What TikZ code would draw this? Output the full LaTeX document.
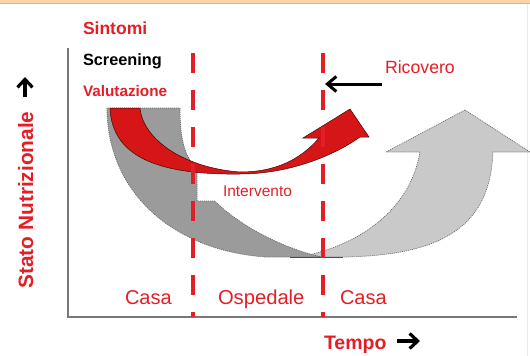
\documentclass[tikz,border=0pt]{standalone}
\usepackage{fontspec}
\setmainfont{Liberation Sans}
\usetikzlibrary{arrows.meta}
\definecolor{txtred}{RGB}{228,30,38}
\definecolor{arrred}{RGB}{214,22,22}
\definecolor{dgray}{RGB}{155,155,155}
\definecolor{lgray}{RGB}{201,201,201}
\definecolor{axisgray}{RGB}{120,120,120}
\definecolor{topband}{RGB}{248,214,170}
\definecolor{topline}{RGB}{232,176,112}
\definecolor{framec}{RGB}{228,236,236}
\begin{document}
\begin{tikzpicture}[x=1pt,y=-1pt,
  lbl/.style={inner sep=0pt, outer sep=0pt, text=txtred},
  blk/.style={inner sep=0pt, outer sep=0pt, text=black},
  divider/.style={draw=txtred, line width=4pt, dash pattern=on 20pt off 17pt},
  axisline/.style={draw=axisgray, line width=1.3pt},
  shadeout/.style={draw=black!60, line width=0.7pt, dash pattern=on 1pt off 1pt},
  redarrow/.style={fill=arrred, draw=black!70!arrred, line width=0.5pt},
  heavyarrow/.style={draw=black, line width=3.2pt, -{Straight Barb[length=8pt,width=15pt]}}]
\useasboundingbox (0,0) rectangle (530,356);
% top band and faint frame
\fill[topband] (0,0) rectangle (530,3);
\draw[topline, line width=1pt] (0,3) -- (530,3);
\coordinate (frT) at (527,4);
\coordinate (frB) at (527,356);
\draw[framec, line width=0.8pt] (frT) -- (frB);

% axes
\coordinate (yTop) at (68,48);
\coordinate (orig) at (68,317);
\coordinate (xEnd) at (517,317);
\draw[axisline] (yTop) -- (orig) -- (xEnd);

% light gray rising arrow
\fill[lgray] (465,110) -- (530,152) -- (493,152)
  .. controls (490,225) and (445,255) .. (345,257) -- (300,257)
  .. controls (360,245) and (410,210) .. (420,152) -- (386,152) -- cycle;
\draw[shadeout] (465,110) -- (530,152) -- (493,152)
  .. controls (490,225) and (445,255) .. (345,257) -- (300,257)
  .. controls (360,245) and (410,210) .. (420,152) -- (386,152) -- cycle;

% dark gray descending band
\fill[dgray] (107,108) .. controls (107,190) and (170,250) .. (265,257) -- (322,257)
  .. controls (280,248) and (235,222) .. (215,201) -- (197,201) -- (197,168)
  .. controls (185,158) and (180,140) .. (180,108) -- cycle;
\draw[shadeout] (107,108) .. controls (107,190) and (170,250) .. (265,257) -- (322,257)
  .. controls (280,248) and (235,222) .. (215,201) -- (197,201) -- (197,168)
  .. controls (185,158) and (180,140) .. (180,108) -- cycle;
\draw[black!70, line width=0.8pt] (290,257) -- (343,257);

% red curved arrow
\path[redarrow] (110,108) .. controls (112,160) and (165,175) .. (240,174)
  .. controls (290,174) and (335,155) .. (360,137) -- (369,137) -- (350,109)
  -- (303,138) -- (319,138) .. controls (300,160) and (275,172) .. (240,172)
  .. controls (185,168) and (143,140) .. (140,108) -- cycle;

% dashed dividers
\coordinate (d1T) at (193,53);
\coordinate (d1B) at (193,317);
\coordinate (d2T) at (323,53);
\coordinate (d2B) at (323,317);
\draw[divider] (d1T) -- (d1B);
\draw[divider] (d2T) -- (d2B);

% Ricovero arrow
\coordinate (ricA) at (382,84);
\coordinate (ricB) at (325,84);
\draw[line width=3pt, -{Straight Barb[length=9pt,width=15pt]}] (ricA) -- (ricB);

% axis direction arrows
\coordinate (upA) at (25,97);
\coordinate (upB) at (25,77);
\draw[heavyarrow] (upA) -- (upB);
\coordinate (rtA) at (397,341);
\coordinate (rtB) at (420,341);
\draw[heavyarrow] (rtA) -- (rtB);

% texts
\node[lbl, anchor=base west, font=\fontsize{17.5}{20}\selectfont\bfseries] (sint) at (83,34.5) {Sintomi};
\node[blk, anchor=base west, font=\fontsize{16.3}{19}\selectfont\bfseries] (scr) at (83,65.5) {Screening};
\node[lbl, anchor=base west, font=\fontsize{15.3}{18}\selectfont\bfseries] (val) at (83,96) {Valutazione};
\node[lbl, anchor=base west, font=\fontsize{17.7}{20}\selectfont] (ric) at (385,73) {Ricovero};
\node[lbl, anchor=base west, font=\fontsize{15.5}{18}\selectfont] (int) at (223,196) {Intervento};
\node[lbl, anchor=base west, font=\fontsize{20}{24}\selectfont] (casa1) at (125,304) {Casa};
\node[lbl, anchor=base west, font=\fontsize{20.2}{24}\selectfont] (osp) at (218,304) {Ospedale};
\node[lbl, anchor=base west, font=\fontsize{20}{24}\selectfont] (casa2) at (340,304) {Casa};
\node[lbl, anchor=base west, font=\fontsize{19.5}{23}\selectfont\bfseries] (tempo) at (324,349) {Tempo};
\node[lbl, anchor=base, rotate=90, font=\fontsize{20.8}{24}\selectfont\bfseries] (stato) at (33,200) {Stato Nutrizionale};
\end{tikzpicture}
\end{document}
